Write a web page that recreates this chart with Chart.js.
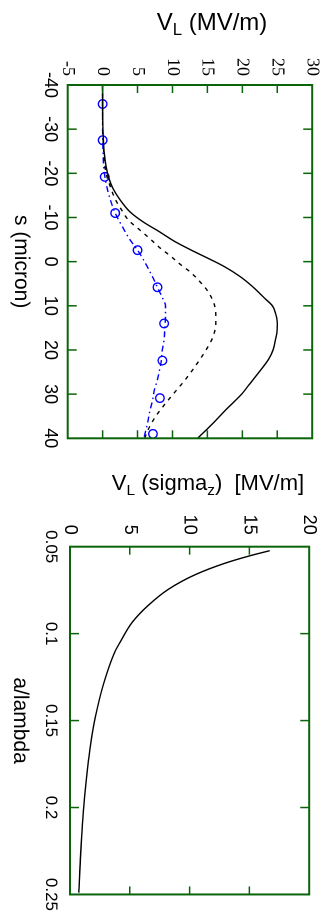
<!DOCTYPE html>
<html lang="en">
<head>
<meta charset="UTF-8">
<title>Longitudinal wake V_L</title>
<script src="https://cdn.jsdelivr.net/npm/chart.js"></script>
<style>
  body {
    margin: 0;
    width: 332px;
    height: 920px;
    overflow: hidden;
    position: relative;
    background: #fff;
    color: #000;
    font-family: 'Liberation Sans', Arial, sans-serif;
  }
  /* the figure is drawn upright, then turned a quarter clockwise */
  #fig {
    position: absolute;
    left: 0;
    top: 0;
    width: 920px;
    height: 332px;
    transform-origin: 0 0;
    transform: translate(332px, 0) rotate(90deg);
  }
  #fig canvas { position: absolute; top: 0; }
  .ytitle {
    position: absolute;
    white-space: nowrap;
    line-height: 1;
    transform: translate(-50%, -50%);
  }
  .ytitle sub {
    font-size: 0.7em;
    vertical-align: baseline;
    position: relative;
    top: 0.3em;
    line-height: 0;
  }
</style>
</head>
<body>
<div id="fig">
  <canvas id="wakeChart" width="480" height="332" style="left:0; width:480px; height:332px;"></canvas>
  <canvas id="apertureChart" width="440" height="332" style="left:480px; width:440px; height:332px;"></canvas>
</div>
<div class="ytitle" style="left:212px; top:22px; font-size:24px;">V<sub>L</sub> (MV/m)</div>
<div class="ytitle" style="left:208px; top:483px; font-size:22px;">V<sub>L</sub> (sigma<sub>z</sub>)&nbsp;&nbsp;[MV/m]</div>

<script>
// top panel: wake along the bunch
const sTicks = [-40, -30, -20, -10, 0, 10, 20, 30, 40];
const vTicks = [-5, 0, 5, 10, 15, 20, 25, 30];

const sSolid = [-40, -35, -30, -25, -22, -20, -17, -14, -11.3, -9, -6.8, -4.5, -2.6, -0.75, 1.1, 3.4, 5.7, 8.3, 10, 12, 14, 16, 18, 20, 22, 25, 28, 30, 33.6, 36.6, 40];
const vSolid = [0, 0, 0.05, 0.2, 0.45, 0.7, 1.35, 2.5, 3.9, 5.8, 8.1, 10.4, 12.7, 15.1, 17.4, 19.7, 21.5, 23.2, 24.3, 24.8, 25.0, 24.95, 24.7, 24.4, 23.8, 22.4, 20.9, 19.9, 17.6, 15.8, 13.6];

const sDashed = [-40, -35, -30, -25, -20, -17, -14, -11.5, -9.4, -7.2, -5.3, -3, -1.3, 0.6, 2.3, 4.5, 6.8, 9.8, 12, 14, 17, 20, 23.8, 26.8, 29.8, 32.5, 35.5, 38.1, 40];
const vDashed = [0, 0, 0.02, 0.15, 0.5, 1.1, 1.85, 2.8, 3.7, 5.3, 6.7, 8.3, 9.7, 11.1, 12.5, 13.9, 15.1, 16.0, 16.2, 16.2, 15.8, 14.8, 13.2, 11.8, 10.2, 8.8, 7.4, 6.5, 6.0];

const sBlue = [-40, -35, -30, -25, -20, -17, -14, -11, -8, -5, -2.6, 0, 3, 5.8, 8, 10, 12.4, 15, 17.7, 20.4, 22.4, 24.9, 27, 29.1, 31, 34.3, 36, 38.1, 40];
const vBlue = [0, 0, 0, 0.05, 0.25, 0.6, 1.1, 1.8, 2.8, 3.9, 5.0, 6.0, 7.0, 7.85, 8.5, 9.0, 9.0, 8.9, 8.8, 8.5, 8.4, 8.1, 7.8, 7.4, 7.2, 6.7, 6.5, 6.2, 5.9];

const sMarks = [-35.7, -27.5, -19.2, -11.0, -2.6, 5.8, 14.0, 22.4, 30.9, 39.0];
const vMarks = [0, 0, 0.3, 1.8, 5.0, 7.85, 8.8, 8.55, 8.2, 7.2];

// bottom panel: wake at sigma_z versus aperture
const aTicks = [0.05, 0.1, 0.15, 0.2, 0.25];
const vsTicks = [0, 5, 10, 15, 20];
const aRatio = [0.0523, 0.0553, 0.0594, 0.066, 0.0746, 0.084, 0.0935, 0.1048, 0.1105, 0.129, 0.148, 0.163, 0.194, 0.222, 0.249];
const vSigma = [16.7, 15.0, 13.0, 10.5, 8.2, 6.5, 5.2, 4.2, 3.75, 2.8, 2.12, 1.74, 1.22, 0.93, 0.74];

const green = '#0a640a';
Chart.defaults.font.family = "'Liberation Sans', Arial, sans-serif";
Chart.defaults.color = '#000';

const pts = (xs, ys) => xs.map((x, i) => ({ x: x, y: ys[i] }));

// green box with inward ticks on all four sides
const frameTicks = {
  id: 'frameTicks',
  afterDatasetsDraw(chart) {
    const { ctx, chartArea: a, scales } = chart;
    ctx.save();
    ctx.strokeStyle = green;
    ctx.lineWidth = 1.5;
    ctx.beginPath();
    scales.x.ticks.forEach(t => {
      const x = scales.x.getPixelForValue(t.value);
      ctx.moveTo(x, a.bottom); ctx.lineTo(x, a.bottom - 9);
      ctx.moveTo(x, a.top); ctx.lineTo(x, a.top + 9);
    });
    scales.y.ticks.forEach(t => {
      const y = scales.y.getPixelForValue(t.value);
      ctx.moveTo(a.left, y); ctx.lineTo(a.left + 8, y);
      ctx.moveTo(a.right, y); ctx.lineTo(a.right - 8, y);
    });
    ctx.stroke();
    ctx.lineWidth = 2;
    ctx.strokeRect(a.left, a.top, a.right - a.left, a.bottom - a.top);
    ctx.restore();
  }
};

function axis(o) {
  return {
    type: 'linear',
    min: o.list[0],
    max: o.list[o.list.length - 1],
    afterBuildTicks: s => { s.ticks = o.list.map(v => ({ value: v })); },
    afterFit: s => {
      if (o.width) s.width = o.width;
      if (o.height) s.height = o.height;
    },
    grid: { display: false, drawTicks: false },
    border: { display: false },
    ticks: {
      font: o.font,
      color: '#000',
      padding: o.pad,
      autoSkip: false,
      maxRotation: 0,
      minRotation: 0,
      callback: v => String(v)
    },
    title: o.title
      ? { display: true, text: o.title, color: '#000', font: { size: 21 }, padding: { top: 0, bottom: o.titlePad } }
      : { display: false }
  };
}

const common = {
  responsive: false,
  animation: false,
  devicePixelRatio: 2,
  plugins: { legend: { display: false }, tooltip: { enabled: false } }
};

new Chart(document.getElementById('wakeChart'), {
  type: 'line',
  data: {
    datasets: [
      {
        data: pts(sSolid, vSolid),
        borderColor: '#000', borderWidth: 1.4,
        pointRadius: 0, cubicInterpolationMode: 'monotone'
      },
      {
        data: pts(sDashed, vDashed),
        borderColor: '#000', borderWidth: 1.4, borderDash: [4, 5],
        pointRadius: 0, cubicInterpolationMode: 'monotone'
      },
      {
        data: pts(sBlue, vBlue),
        borderColor: '#0000ff', borderWidth: 1.4, borderDash: [6, 3.5, 1.5, 3.5],
        pointRadius: 0, cubicInterpolationMode: 'monotone'
      },
      {
        data: pts(sMarks, vMarks),
        showLine: false,
        pointStyle: 'circle', pointRadius: 4.3,
        pointBorderColor: '#0000ff', pointBorderWidth: 1.4,
        pointBackgroundColor: 'rgba(0,0,0,0)'
      }
    ]
  },
  options: Object.assign({}, common, {
    layout: { padding: { left: 0, right: 41.7, top: 13, bottom: 0 } },
    scales: {
      x: axis({ list: sTicks, height: 67.7, pad: 7, font: { size: 18 }, title: 's (micron)', titlePad: 8 }),
      y: axis({ list: vTicks, width: 85, pad: 9, font: { size: 18, family: "'Liberation Serif', 'Times New Roman', serif" } })
    }
  }),
  plugins: [frameTicks]
});

new Chart(document.getElementById('apertureChart'), {
  type: 'line',
  data: {
    datasets: [
      {
        data: pts(aRatio, vSigma),
        borderColor: '#000', borderWidth: 1.4,
        pointRadius: 0, cubicInterpolationMode: 'monotone'
      }
    ]
  },
  options: Object.assign({}, common, {
    layout: { padding: { left: 0, right: 20.7, top: 11, bottom: 0 } },
    scales: {
      x: axis({ list: aTicks, height: 70, pad: 9, font: { size: 17 }, title: 'a/lambda', titlePad: 7 }),
      y: axis({ list: vsTicks, width: 66.7, pad: 12, font: { size: 18 } })
    }
  }),
  plugins: [frameTicks]
});
</script>
</body>
</html>
